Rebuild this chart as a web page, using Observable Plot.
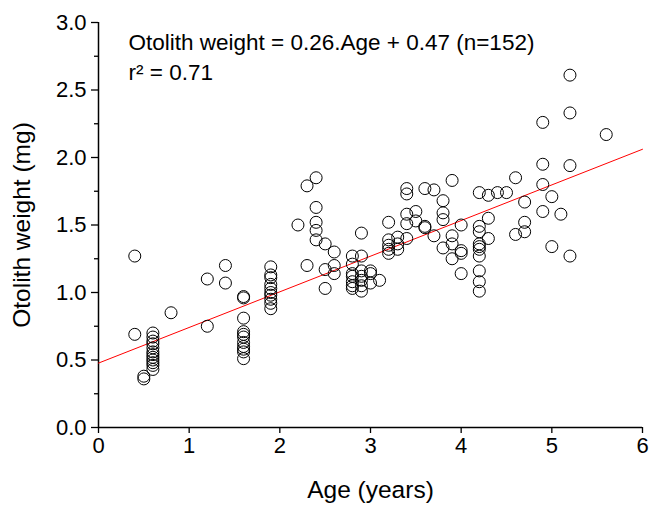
<!DOCTYPE html>
<html>
<head>
<meta charset="utf-8">
<script src="https://cdn.jsdelivr.net/npm/d3@7"></script>
<script src="https://cdn.jsdelivr.net/npm/@observablehq/plot@0.6"></script>
<style>
  html, body { margin: 0; padding: 0; background: #fff; }
  #chart { width: 650px; height: 505px; }
</style>
</head>
<body>
<div id="chart"></div>
<script>
// Age (years) of each fish, one entry per point
const ages = [
  0.4, 0.4,
  0.5, 0.5,
  0.6, 0.6, 0.6, 0.6, 0.6, 0.6, 0.6, 0.6, 0.6, 0.6, 0.6, 0.6,
  0.8,
  1.2, 1.2,
  1.4, 1.4,
  1.6, 1.6, 1.6, 1.6, 1.6, 1.6, 1.6, 1.6, 1.6, 1.6, 1.6,
  1.9, 1.9, 1.9, 1.9, 1.9, 1.9, 1.9, 1.9, 1.9, 1.9,
  2.2,
  2.3, 2.3,
  2.4, 2.4, 2.4, 2.4, 2.4,
  2.5, 2.5, 2.5,
  2.6, 2.6, 2.6,
  2.8, 2.8, 2.8, 2.8, 2.8, 2.8, 2.8,
  2.9, 2.9, 2.9, 2.9, 2.9, 2.9, 2.9,
  3.0, 3.0, 3.0,
  3.1,
  3.2, 3.2, 3.2, 3.2, 3.2,
  3.3, 3.3, 3.3,
  3.4, 3.4, 3.4, 3.4, 3.4,
  3.5, 3.5,
  3.6, 3.6, 3.6,
  3.7, 3.7,
  3.8, 3.8, 3.8, 3.8,
  3.9, 3.9, 3.9, 3.9,
  4.0, 4.0, 4.0, 4.0,
  4.2, 4.2, 4.2, 4.2, 4.2, 4.2, 4.2, 4.2, 4.2, 4.2,
  4.3, 4.3, 4.3,
  4.4,
  4.5,
  4.6, 4.6,
  4.7, 4.7, 4.7,
  4.9, 4.9, 4.9, 4.9,
  5.0, 5.0,
  5.1,
  5.2, 5.2, 5.2, 5.2,
  5.6
];
// Otolith weight (mg), same order as ages
const weights = [
  1.27, 0.69,
  0.38, 0.36,
  0.70, 0.67, 0.64, 0.62, 0.59, 0.56, 0.54, 0.52, 0.50, 0.48, 0.46, 0.43,
  0.85,
  1.10, 0.75,
  1.20, 1.07,
  0.97, 0.96, 0.81, 0.71, 0.69, 0.67, 0.63, 0.60, 0.58, 0.56, 0.51,
  1.19, 1.13, 1.11, 1.06, 1.03, 1.00, 0.98, 0.95, 0.92, 0.88,
  1.50,
  1.79, 1.20,
  1.85, 1.63, 1.52, 1.46, 1.39,
  1.36, 1.17, 1.03,
  1.30, 1.20, 1.14,
  1.27, 1.21, 1.14, 1.12, 1.08, 1.05, 1.03,
  1.44, 1.27, 1.16, 1.12, 1.09, 1.05, 1.01,
  1.16, 1.14, 1.07,
  1.09,
  1.52, 1.39, 1.35, 1.32, 1.29,
  1.41, 1.36, 1.32,
  1.77, 1.73, 1.58, 1.51, 1.40,
  1.60, 1.53,
  1.77, 1.49, 1.48,
  1.76, 1.42,
  1.68, 1.59, 1.54, 1.33,
  1.83, 1.42, 1.36, 1.25,
  1.50, 1.31, 1.29, 1.14,
  1.74, 1.49, 1.45, 1.36, 1.34, 1.32, 1.27, 1.16, 1.08, 1.01,
  1.72, 1.55, 1.40,
  1.74,
  1.74,
  1.85, 1.43,
  1.67, 1.52, 1.45,
  2.26, 1.95, 1.80, 1.60,
  1.71, 1.34,
  1.58,
  2.61, 2.33, 1.94, 1.27,
  2.17
];

// Fitted regression line (as drawn)
const fitSlope = 0.264;
const fitIntercept = 0.477;
const fitAges = [0, 6];

// Axis ticks and texts
const xTicks = [0, 1, 2, 3, 4, 5, 6];
const yTicks = [0, 0.5, 1.0, 1.5, 2.0, 2.5, 3.0];
const yMinorTicks = [0.25, 0.75, 1.25, 1.75, 2.25, 2.75];
const xTitle = "Age (years)";
const yTitle = "Otolith weight (mg)";
const equationText = "Otolith weight = 0.26.Age + 0.47 (n=152)";
const r2Text = "r\u00B2 = 0.71";

const points = ages.map((a, i) => ({age: a, weight: weights[i]}));
const fit = fitAges.map(a => ({age: a, weight: fitIntercept + fitSlope * a}));

const font = "Liberation Sans, Arial, Helvetica, sans-serif";

const chart = Plot.plot({
  width: 650,
  height: 505,
  marginLeft: 98,
  marginRight: 8,
  marginTop: 22,
  marginBottom: 78,
  style: {fontFamily: font, background: "#fff", color: "#000", overflow: "visible"},
  x: {domain: [0, 6], label: null},
  y: {domain: [0, 3], label: null},
  marks: [
    Plot.axisX({ticks: xTicks, tickSize: 6, tickPadding: 4, fontSize: 22, label: null, tickFormat: d3.format("d"), stroke: "#000", strokeWidth: 1.3}),
    Plot.axisY({ticks: yTicks, tickSize: 7, tickPadding: 5, fontSize: 22, label: null, tickFormat: d3.format(".1f"), stroke: "#000", strokeWidth: 1.3}),
    Plot.axisY({ticks: yMinorTicks, tickSize: 4, tickFormat: () => "", label: null, stroke: "#000", strokeWidth: 1.3}),
    Plot.ruleX([0], {stroke: "#000", strokeWidth: 1.5}),
    Plot.ruleY([0], {stroke: "#000", strokeWidth: 1.5}),
    Plot.line(fit, {x: "age", y: "weight", stroke: "#ff0000", strokeWidth: 1}),
    Plot.dot(points, {x: "age", y: "weight", r: 6, stroke: "#000", strokeWidth: 1, fill: "none"}),
    Plot.text([equationText], {frameAnchor: "top-left", textAnchor: "start", lineAnchor: "middle", dx: 30, dy: 20, fontSize: 22.5, fill: "#000"}),
    Plot.text([r2Text], {frameAnchor: "top-left", textAnchor: "start", lineAnchor: "middle", dx: 30, dy: 50, fontSize: 22.5, fill: "#000"}),
    Plot.text([xTitle], {frameAnchor: "bottom", textAnchor: "middle", lineAnchor: "middle", dy: 63, fontSize: 24.5, fill: "#000"}),
    Plot.text([yTitle], {frameAnchor: "left", textAnchor: "middle", lineAnchor: "middle", dx: -76, rotate: -90, fontSize: 24.5, fill: "#000"})
  ]
});

document.getElementById("chart").appendChild(chart);
</script>
</body>
</html>
